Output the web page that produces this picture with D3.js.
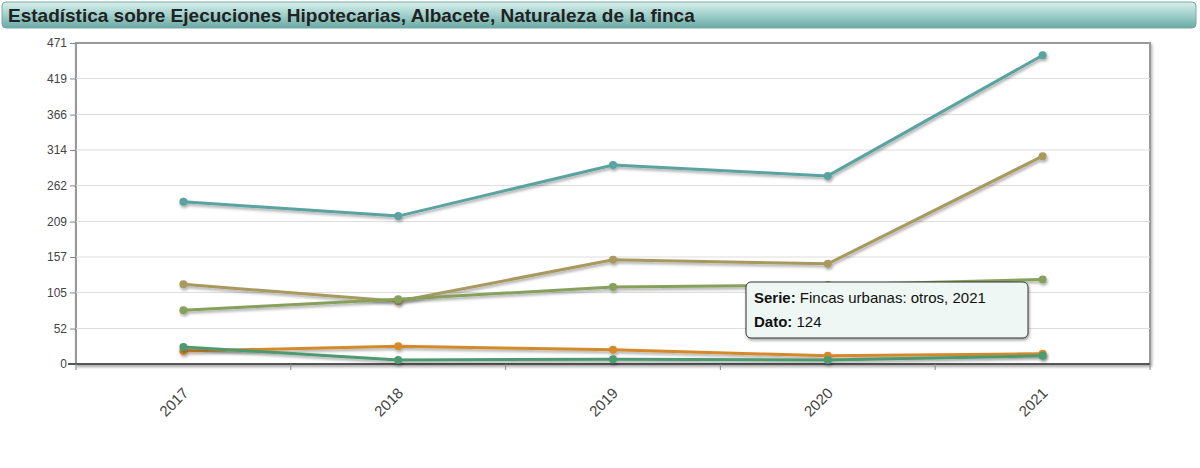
<!DOCTYPE html><html><head><meta charset="utf-8"><script src="https://cdn.jsdelivr.net/npm/d3@7"></script>
<style>body{margin:0;background:#fff;font-family:"Liberation Sans",Arial,sans-serif}</style></head><body>
<svg id="c" width="1200" height="468"></svg>
<script>
const years=["2017","2018","2019","2020","2021"];
const yTicks=[0,52,105,157,209,262,314,366,419,471];
const seriesNames=["Total fincas","Fincas urbanas: viviendas","Fincas urbanas: otros","Fincas rústicas","Otros"];
const seriesColors=["#5aa3a0","#a8995e","#87a15b","#d48a2c","#4e9a70"];
const v0=[238,217,292,276,453];
const v1=[117,92,153,147,305];
const v2=[79,95,113,116,124];
const v3=[19,26,21,12,15];
const v4=[25,6,7,6,12];
const values=[v0,v1,v2,v3,v4];

const svg=d3.select("#c");
const defs=svg.append("defs");
const g1=defs.append("linearGradient").attr("id","tg").attr("x1",0).attr("y1",0).attr("x2",0).attr("y2",1);
g1.append("stop").attr("offset","0").attr("stop-color","#d9efec");
g1.append("stop").attr("offset","0.5").attr("stop-color","#9fd0cb");
g1.append("stop").attr("offset","1").attr("stop-color","#6aa9a4");
const f=defs.append("filter").attr("id","sh").attr("x","-10%").attr("y","-10%").attr("width","120%").attr("height","130%");
f.append("feDropShadow").attr("dx",1).attr("dy",2).attr("stdDeviation",1.5).attr("flood-color","#000").attr("flood-opacity",0.35);

svg.append("rect").attr("x",2).attr("y",2).attr("width",1194).attr("height",26).attr("rx",4).attr("fill","url(#tg)").attr("stroke","#7aa9a5");
svg.append("text").attr("x",8).attr("y",22).attr("font-size",19).attr("font-weight","bold").attr("fill","#222").text("Estadística sobre Ejecuciones Hipotecarias, Albacete, Naturaleza de la finca");

const L=76,R=1150,T=43,B=364;
const x=d3.scaleBand().domain(years).range([L,R]);
const y=d3.scaleLinear().domain([0,471]).range([B,T]);

svg.append("rect").attr("x",L).attr("y",T).attr("width",R-L).attr("height",B-T).attr("fill","#fff").attr("stroke","#999").attr("stroke-width",2).attr("filter","url(#sh)");
svg.append("g").selectAll("line").data(yTicks.slice(1,-1)).join("line").attr("x1",L).attr("x2",R).attr("y1",d=>y(d)).attr("y2",d=>y(d)).attr("stroke","#ddd");

const ya=svg.append("g").attr("transform",`translate(${L},0)`).call(d3.axisLeft(y).tickValues(yTicks).tickSize(6).tickSizeOuter(0));
ya.select(".domain").remove();
ya.selectAll("line").attr("stroke","#888");
ya.selectAll("text").attr("font-size",12).attr("fill","#444");

const xa=svg.append("g").attr("transform",`translate(0,${B})`);
xa.append("line").attr("x1",L-8).attr("x2",R).attr("stroke","#555").attr("stroke-width",2);
xa.selectAll(".tk").data(years.concat(["end"])).join("line").attr("x1",(d,i)=>L+i*x.step()).attr("x2",(d,i)=>L+i*x.step()).attr("y1",0).attr("y2",6).attr("stroke","#888");
xa.selectAll("text").data(years).join("text").attr("font-size",15).attr("fill","#444").attr("text-anchor","end")
 .attr("transform",d=>`translate(${x(d)+x.bandwidth()/2+6},${30}) rotate(-45)`).text(d=>d);

const line=d3.line().x((d,i)=>x(years[i])+x.bandwidth()/2).y(d=>y(d));
values.forEach((vals,k)=>{
  const g=svg.append("g").attr("filter","url(#sh)");
  g.append("path").attr("d",line(vals)).attr("fill","none").attr("stroke",seriesColors[k]).attr("stroke-width",3);
  g.selectAll("circle").data(vals).join("circle").attr("cx",(d,i)=>x(years[i])+x.bandwidth()/2).attr("cy",d=>y(d)).attr("r",4).attr("fill",seriesColors[k]);
});

const tt=svg.append("g").attr("transform","translate(746,282)");
tt.append("rect").attr("width",282).attr("height",56).attr("rx",5).attr("fill","#eef7f4").attr("stroke","#333").attr("filter","url(#sh)");
const t1=tt.append("text").attr("x",8).attr("y",21).attr("font-size",15).attr("fill","#111");
t1.append("tspan").attr("font-weight","bold").text("Serie:");
t1.append("tspan").text(" "+seriesNames[2]+", "+years[4]);
const t2=tt.append("text").attr("x",8).attr("y",45).attr("font-size",15).attr("fill","#111");
t2.append("tspan").attr("font-weight","bold").text("Dato:");
t2.append("tspan").text(" "+v2[4]);
</script></body></html>
